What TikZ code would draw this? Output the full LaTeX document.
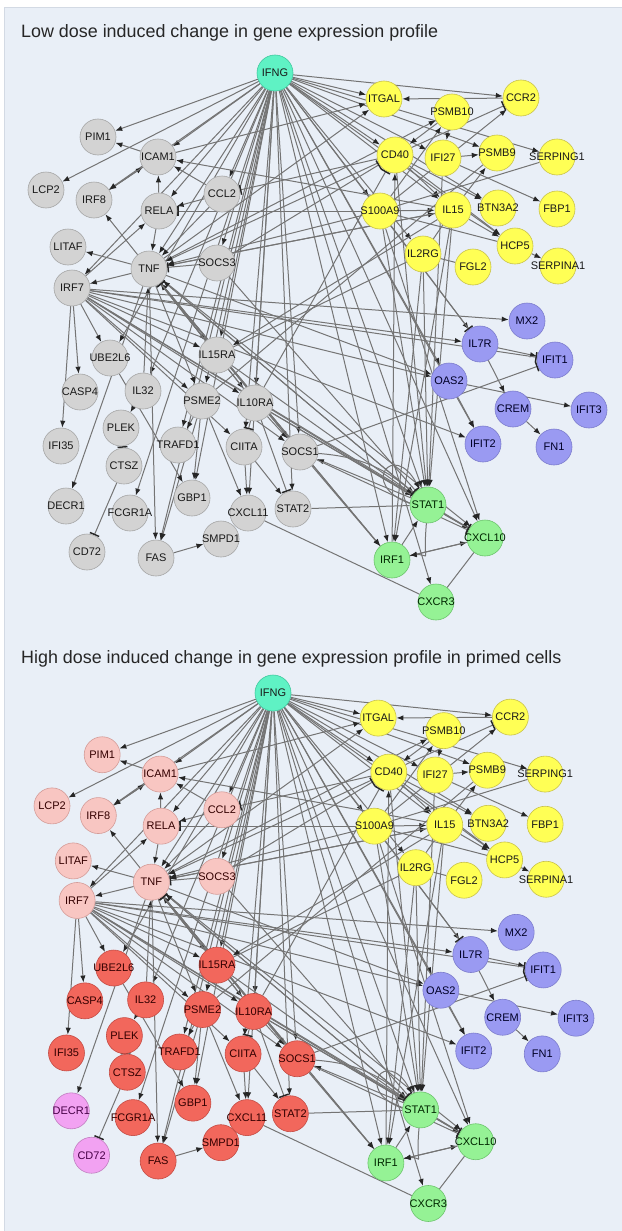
\documentclass[tikz,border=0pt]{standalone}
\usepackage{fontspec}
\setmainfont{Liberation Sans}
\usetikzlibrary{arrows.meta}

\pgfdeclarelayer{bg}
\pgfdeclarelayer{edgelayer}
\pgfsetlayers{bg,edgelayer,main}

\definecolor{panelbg}{HTML}{E9EFF7}
\definecolor{panelline}{HTML}{D3DAE4}
\definecolor{edgegray}{HTML}{747474}
\definecolor{tipgray}{HTML}{262626}
\definecolor{ifngfill}{HTML}{5FF2C4}
\definecolor{ifngline}{HTML}{3FC89E}
\definecolor{yelfill}{HTML}{FFFF55}
\definecolor{yelline}{HTML}{C9C24A}
\definecolor{grayfill}{HTML}{D3D3D3}
\definecolor{grayline}{HTML}{A6A6A6}
\definecolor{bluefill}{HTML}{9A9AF2}
\definecolor{blueline}{HTML}{7C7CCC}
\definecolor{greenfill}{HTML}{95F295}
\definecolor{greenline}{HTML}{6CC46C}
\definecolor{pinkfill}{HTML}{F8C6C2}
\definecolor{pinkline}{HTML}{D49C98}
\definecolor{redfill}{HTML}{F2675C}
\definecolor{redline}{HTML}{C44C44}
\definecolor{violetfill}{HTML}{F2A2F2}
\definecolor{violetline}{HTML}{C07EC0}

\tikzset{
  gene/.style={circle, minimum size=36pt, inner sep=0pt, line width=0.6pt,
    font=\fontsize{11}{12}\selectfont},
  ifngnode/.style={fill=ifngfill, draw=ifngline, text=black!90},
  yelnode/.style={fill=yelfill, draw=yelline, text=black!90},
  bluenode/.style={fill=bluefill, draw=blueline, text=blue!15!black},
  greennode/.style={fill=greenfill, draw=greenline, text=green!15!black},
  graynode/.style={fill=grayfill, draw=grayline, text=black!90},
  act/.style={draw=edgegray, line width=1pt, -{Latex[length=7pt,width=5.4pt,color=tipgray]}},
  inh/.style={draw=edgegray, line width=1pt, -{Bar[width=10pt,line width=1.5pt,color=tipgray]}},
  rel/.style={draw=edgegray, line width=1pt},
  paneltitle/.style={anchor=base west, inner sep=0pt, text=black!85,
    font=\fontsize{17.9}{20}\selectfont},
}

% one gene network, node names get the prefix #1
\newcommand\drawnet[1]{%
  \foreach \nm/\px/\py/\st in {IFNG/275/73/ifngnode,
    PIM1/98/137/upgrp, ICAM1/158/157/upgrp, LCP2/46/190/upgrp, IRF8/94/200/upgrp,
    CCL2/222/194/upgrp, RELA/159/211/upgrp, LITAF/68/247/upgrp, TNF/149/269/upgrp,
    SOCS3/217/263/upgrp, IRF7/72/288/upgrp,
    ITGAL/384/99/yelnode, CCR2/521/98/yelnode, PSMB10/452/112/yelnode, CD40/395/155/yelnode,
    IFI27/443/158/yelnode, PSMB9/497/153/yelnode, SERPING1/557/157/yelnode,
    S100A9/380/211/yelnode, IL15/453/210/yelnode, BTN3A2/498/208/yelnode, FBP1/557/209/yelnode,
    HCP5/515/246/yelnode, IL2RG/423/254/yelnode, FGL2/473/267/yelnode, SERPINA1/558/266/yelnode,
    UBE2L6/110/358/lowgrp, IL15RA/217/355/lowgrp, CASP4/80/392/lowgrp, IL32/143/391/lowgrp,
    PSME2/202/401/lowgrp, IL10RA/255/403/lowgrp, PLEK/121/428/lowgrp, IFI35/61/446/lowgrp,
    TRAFD1/178/445/lowgrp, CIITA/244/447/lowgrp, SOCS1/300/452/lowgrp, CTSZ/124/466/lowgrp,
    GBP1/192/498/lowgrp, DECR1/66/506/purpgrp, FCGR1A/130/513/lowgrp, CXCL11/248/513/lowgrp,
    STAT2/293/509/lowgrp, CD72/87/552/purpgrp, FAS/156/558/lowgrp, SMPD1/221/539/lowgrp,
    MX2/527/321/bluenode, IL7R/480/344/bluenode, IFIT1/555/360/bluenode, OAS2/449/381/bluenode,
    CREM/513/409/bluenode, IFIT3/589/410/bluenode, IFIT2/483/444/bluenode, FN1/554/447/bluenode,
    STAT1/428/505/greennode, CXCL10/485/538/greennode, IRF1/392/560/greennode,
    CXCR3/436/602/greennode}
    \node[gene,\st] (#1\nm) at (\px,\py) {\makebox[0pt]{\nm}};
  \begin{pgfonlayer}{edgelayer}
    \foreach \s in {PIM1, LCP2, ICAM1, CCL2, RELA, SOCS3, TNF, IRF7, IRF8, ITGAL, CCR2,
      CD40, PSMB9, SERPING1, S100A9, IL15, IFI27, BTN3A2, IL2RG, HCP5, UBE2L6, IL15RA,
      IL32, PSME2, IL10RA, TRAFD1, CIITA, SOCS1, GBP1, FCGR1A, CXCL11, FAS, STAT2,
      IL7R, OAS2, IFIT2, STAT1, CXCL10, IRF1, CXCR3}
      \draw[act] (#1IFNG) -- (#1\s);
    \foreach \s/\t in {TNF/LITAF, TNF/IRF7, TNF/IRF8, TNF/PSME2, TNF/IL15RA, TNF/SOCS1,
      TNF/STAT1, TNF/IRF1, TNF/DECR1, TNF/FAS, TNF/CXCL10, TNF/IL10RA, TNF/PSMB10,
      TNF/OAS2, TNF/ITGAL, TNF/IL15, RELA/TNF, CD40/TNF, S100A9/TNF, IL15/TNF,
      IL15RA/TNF, STAT1/TNF, IRF1/TNF, IL32/TNF, CCL2/TNF,
      IRF7/UBE2L6, IRF7/CASP4, IRF7/IFI35, IRF7/IL15RA, IRF7/PSME2, IRF7/IL10RA,
      IRF7/SOCS1, IRF7/STAT1, IRF7/OAS2, IRF7/MX2, IRF7/IFIT2, IRF7/CXCL10, IRF7/RELA,
      IRF7/IL7R, IRF7/CIITA,
      IRF8/ICAM1, ICAM1/IRF8, RELA/ICAM1, CCL2/ICAM1, CCL2/RELA, ICAM1/PIM1, IL15/ICAM1,
      ICAM1/ITGAL, CCR2/ITGAL, S100A9/CCR2, S100A9/PSMB10, PSMB10/IFI27, PSMB10/CD40,
      IFI27/PSMB9, IL15/PSMB9, IFI27/FBP1, CD40/BTN3A2, CD40/HCP5, IL15/HCP5,
      HCP5/SERPINA1, CD40/IL15, S100A9/IL15, IRF1/CD40, IL15/IL15RA,
      IL15/STAT1, IL2RG/STAT1, S100A9/STAT1, CD40/STAT1, IFI27/STAT1, IL15/IRF1,
      IL2RG/IRF1, S100A9/CXCL10, IL10RA/STAT1, IL15RA/STAT1,
      STAT1/CXCL10, IRF1/STAT1, IRF1/CXCL10, CXCL10/IRF1, STAT1/SOCS1, SOCS1/IRF1,
      IL7R/IFIT1, OAS2/IFIT3, OAS2/IFIT2, IL7R/CREM, CREM/FN1,
      PSME2/TRAFD1, PSME2/GBP1, PSME2/CXCL11, PSME2/FAS, IL32/PLEK, UBE2L6/GBP1,
      CIITA/CXCL11, CIITA/STAT2, IL10RA/SOCS1, FAS/SMPD1}
      \draw[act] (#1\s) -- (#1\t);
    \foreach \s/\t in {S100A9/RELA, CD40/CCL2, CD40/CCR2, IL10RA/CD40, SOCS3/CD40,
      SOCS3/TNF, IL10RA/TNF, SOCS1/TNF, S100A9/IL7R, IRF7/IFIT1, SOCS1/IFIT1,
      SOCS3/STAT1, SOCS1/CXCL10, IL10RA/CXCL10, IL10RA/CIITA, IL10RA/STAT2,
      PLEK/CTSZ, CTSZ/CD72}
      \draw[inh] (#1\s) -- (#1\t);
    \foreach \s/\t in {S100A9/HCP5, IL2RG/FGL2, IL2RG/IL15, S100A9/SERPING1,
      CXCR3/CXCL10, CXCL11/CXCR3, STAT2/STAT1, IL2RG/IL15RA, PSME2/PSMB9}
      \draw[rel] (#1\s) -- (#1\t);
    % y points down here, so polar offsets use negated angles
    \draw[inh] (#1SOCS1) to[bend left=18] (#1STAT1);
    \draw[act] (#1STAT1.175) .. controls +(-160:55) and +(-118:55) .. (#1STAT1.118);
    \draw[act] (#1STAT1.265) .. controls +(95:45) and +(-5:22) .. (#1IRF1.15);
  \end{pgfonlayer}
}

\begin{document}
\begin{tikzpicture}[x=1pt,y=-1pt]
\useasboundingbox (0,0) rectangle (621,1231);
\begin{pgfonlayer}{bg}
  \fill[white] (0,0) rectangle (621,1231);
  \draw[panelline, fill=panelbg] (4,7) rectangle (622,1232);
\end{pgfonlayer}

\node[paneltitle] (lotitle) at (21,38) {Low dose induced change in gene expression profile};
\begin{scope}[upgrp/.style={graynode}, lowgrp/.style={graynode}, purpgrp/.style={graynode}]
  \drawnet{lo-}
\end{scope}

\node[paneltitle] (hititle) at (21,663) {High dose induced change in gene expression profile in primed cells};
\begin{scope}[shift={(273,693)}, scale=0.965, shift={(-275,-73)},
  upgrp/.style={fill=pinkfill, draw=pinkline, text=red!20!black},
  lowgrp/.style={fill=redfill, draw=redline, text=red!20!black},
  purpgrp/.style={fill=violetfill, draw=violetline, text=violet!55!black}]
  \drawnet{hi-}
\end{scope}
\end{tikzpicture}
\end{document}
